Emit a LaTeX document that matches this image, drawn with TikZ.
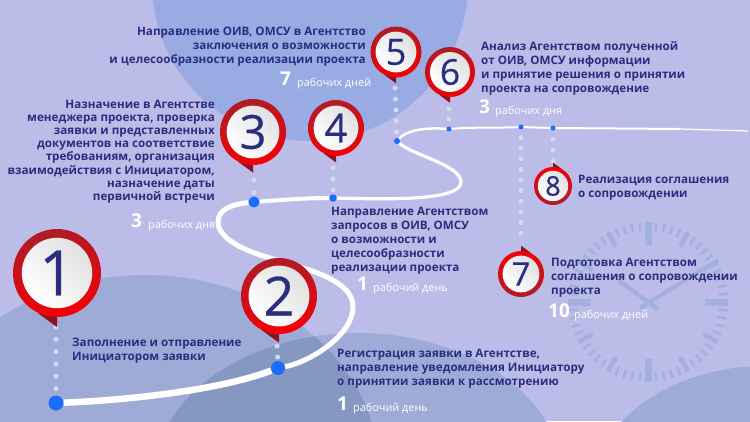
\documentclass[tikz,border=0pt]{standalone}
\usepackage{fontspec}
\setmainfont{Open Sans}
\newfontfamily\pinfam[FakeBold=0.5]{Open Sans}
\definecolor{bgc}{HTML}{BBBDE8}
\definecolor{topc}{HTML}{99ABE3}
\definecolor{hillc}{HTML}{9EABD7}
\definecolor{deepc}{HTML}{8598C1}
\definecolor{clockc}{HTML}{A3AFDC}
\definecolor{navyc}{HTML}{2B2E80}
\definecolor{dotc}{HTML}{D5D9F0}
\definecolor{bluec}{HTML}{1A6DFF}
\definecolor{ringa}{HTML}{B01C26}
\definecolor{ringb}{HTML}{F40006}
\definecolor{tailc}{HTML}{8A1522}
\tikzset{
	road/.style={draw=white, line cap=butt},
	dotline/.style 2 args={draw=dotc, line width=5pt, line cap=round, dash pattern=on 0pt off #1pt, dash phase=#2pt},
	endpt/.style={circle, fill=bluec, inner sep=0pt},
	pinring/.style={circle, inner sep=0pt, left color=ringa, right color=ringb},
	pindisc/.style={circle, inner sep=0pt, text=navyc, bottom color=white, top color=black!12!white, shading angle=-45},
	txt/.style={inner sep=0pt, text=navyc, font=\fontsize{11.65}{14}\selectfont\bfseries},
	durnum/.style={inner sep=0pt, anchor=base west, text=white, font=\fontsize{19}{19}\selectfont\bfseries},
	durtxt/.style={inner sep=0pt, anchor=base west, text=white, font=\fontsize{10.9}{12}\selectfont},
}
\newcommand{\pinmark}[6]{
	\coordinate (t#1) at ({#2},{#3+(#5)*1.23*#4});
	\fill[tailc] ({#2-(#5)*.45*#4},{#3+(#5)*.9*#4}) -- (t#1) -- ({#2},{#3+(#5)*.9*#4}) -- cycle;
	\pgfmathsetmacro\ringang{#5>0 ? 10 : 190}
	\node[pinring, shading angle=\ringang, minimum size=2*#4 pt] (r#1) at (#2,#3) {};
	\pgfmathsetmacro\pinfont{1.42*#4}
	\node[pindisc, minimum size=1.6*#4 pt, font=\fontsize{\pinfont}{\pinfont}\selectfont\pinfam] (p#1) at (#2,#3) {#6};
}
\begin{document}
\begin{tikzpicture}[x=1pt, y=-1pt]
	\useasboundingbox (0,0) rectangle (750,421);
	\fill[bgc] (0,0) rectangle (750,421);

	% background shapes
	\begin{scope}
		\clip (0,0) rectangle (750,421);
		\fill[topc] (310,-17) circle (158);
		\fill[hillc] (145,475) ellipse [x radius=235, y radius=200];
		\fill[hillc] (358,480) ellipse [x radius=205, y radius=147];
		\fill[hillc] (765,500) ellipse [x radius=177, y radius=134];
		\begin{scope}
			\clip (145,475) ellipse [x radius=235, y radius=200];
			\fill[deepc] (358,480) ellipse [x radius=205, y radius=147];
		\end{scope}
	\end{scope}

	% clock
	\begin{scope}[shift={(648,302)}]
		\foreach \a in {0,6,...,354}
			\draw[clockc, line width=2.5pt] (\a:71) -- (\a:80);
		\foreach \a in {30,60,120,150,210,240,300,330}
			\draw[clockc, line width=4.5pt] (\a:64) -- (\a:80);
		\foreach \a in {0,90,180,270}
			\draw[clockc, line width=7pt] (\a:57) -- (\a:80);
	\end{scope}
	\draw[clockc, line width=4pt] (718,260) -- (640,308);
	\draw[clockc, line width=4pt] (618,280) -- (658,309);

	% points on the road
	\node[endpt, minimum size=15pt] (e1) at (56,403) {};
	\node[endpt, minimum size=14pt] (e2) at (278,368) {};
	\node[endpt, minimum size=11pt] (e3) at (254,202) {};
	\node[endpt, minimum size=7.5pt] (e4) at (333,198) {};
	\node[endpt, minimum size=6pt] (e5) at (397,141) {};
	\node[endpt, minimum size=5pt] (e6) at (449,129) {};
	\node[endpt, minimum size=5pt] (e7) at (521,127) {};
	\node[endpt, minimum size=5pt] (e8) at (553,128) {};
	\coordinate (e9) at (680,129);
	\coordinate (e10) at (748,131);

	% road
	\draw[road, line width=6.5pt] (e1) .. controls (130,400) and (220,390) .. (e2);
	\draw[road, line width=5pt] (e2) .. controls (310,362) and (353,335) .. (353,307)
		.. controls (353,280) and (310,270) .. (270,258)
		.. controls (235,248) and (218,235) .. (218,222)
		.. controls (218,208) and (235,204) .. (e3);
	\draw[road, line width=4pt] (e3) .. controls (280,200) and (305,198) .. (e4);
	\draw[road, line width=3.2pt] (e4) .. controls (380,199) and (461,202) .. (461,182)
		.. controls (461,165) and (412,155) .. (e5);
	\draw[road, line width=2.5pt] (e5) .. controls (405,132) and (420,127) .. (e6);
	\draw[road, line width=2pt] (e6) .. controls (475,127) and (500,128) .. (e7);
	\draw[road, line width=2pt] (e7) -- (e8);
	\draw[road, line width=2pt] (e8) -- (e9);
	\draw[road, line width=1.2pt] (e9) -- (e10);

	% pins
	\coordinate (t1) at (56,327);
	\coordinate (t2) at (277,343);
	\coordinate (t3) at (254,173);
	\coordinate (t4) at (333,162);
	\coordinate (t5) at (395,83);
	\coordinate (t6) at (449,103);
	\coordinate (t7) at (521,241);
	\coordinate (t8) at (553,162);
	\draw[dotline={12.3}{0}] (t1) -- (e1);
	\draw[dotline={11}{8}] (t2) -- (e2);
	\draw[dotline={12.5}{5.5}] (t3) -- (e3);
	\draw[dotline={11}{5}] (t4) -- (e4);
	\draw[dotline={11}{6}] (t5) -- (e5);
	\draw[dotline={10}{4}] (t6) -- (e6);
	\draw[dotline={10.6}{2.6}] (t7) -- (e7);
	\draw[dotline={11}{10}] (t8) -- (e8);

	\pinmark{1}{57}{273}{44}{1}{1}
	\pinmark{2}{279}{296}{38}{1}{2}
	\pinmark{3}{253}{132}{33}{1}{3}
	\pinmark{4}{336}{128}{28}{1}{4}
	\pinmark{5}{396}{52}{25.5}{1}{5}
	\pinmark{6}{450}{72}{25}{1}{6}
	\pinmark{7}{521}{274}{23}{-1}{7}
	\pinmark{8}{553}{186}{19}{-1}{8}

	% texts
	\node[txt, anchor=west, align=left] (s1) at (72,351) {Заполнение и отправление\\Инициатором заявки};
	\node[txt, anchor=west, align=left] (s2) at (337,368.5) {Регистрация заявки в Агентстве,\\направление уведомления Инициатору\\о принятии заявки к рассмотрению};
	\node[txt, anchor=east, align=right, font=\fontsize{11.65}{13.2}\selectfont\bfseries] (s3) at (215,151.5) {Назначение в Агентстве\\менеджера проекта, проверка\\заявки и представленных\\документов на соответствие\\требованиям, организация\\взаимодействия с Инициатором,\\назначение даты\\первичной встречи};
	\node[txt, anchor=west, align=left] (s4) at (331,241) {Направление Агентством\\запросов в ОИВ, ОМСУ\\о возможности и\\целесообразности\\реализации проекта};
	\node[txt, anchor=east, align=right] (s5) at (366,47) {Направление ОИВ, ОМСУ в Агентство\\заключения о возможности\\и целесообразности реализации проекта};
	\node[txt, anchor=west, align=left] (s6) at (481,68) {Анализ Агентством полученной\\от ОИВ, ОМСУ информации\\и принятие решения о принятии\\проекта на сопровождение};
	\node[txt, anchor=west, align=left] (s7) at (551,277.5) {Подготовка Агентством\\соглашения о сопровождении\\проекта};
	\node[txt, anchor=west, align=left] (s8) at (578,188) {Реализация соглашения\\о сопровождении};

	% durations
	\node[durnum] (n2) at (337,410) {1};
	\node[durtxt] (d2) at (353,411) {рабочий день};
	\node[durnum] (n3) at (131,227) {3};
	\node[durtxt] (d3) at (148,228) {рабочих дня};
	\node[durnum] (n4) at (357,290) {1};
	\node[durtxt] (d4) at (373,291) {рабочий день};
	\node[durnum] (n5) at (280,85) {7};
	\node[durtxt] (d5) at (297,86) {рабочих дней};
	\node[durnum] (n6) at (479,113) {3};
	\node[durtxt] (d6) at (495,114) {рабочих дня};
	\node[durnum] (n7) at (548,317) {10};
	\node[durtxt] (d7) at (574,318) {рабочих дней};
\end{tikzpicture}
\end{document}
